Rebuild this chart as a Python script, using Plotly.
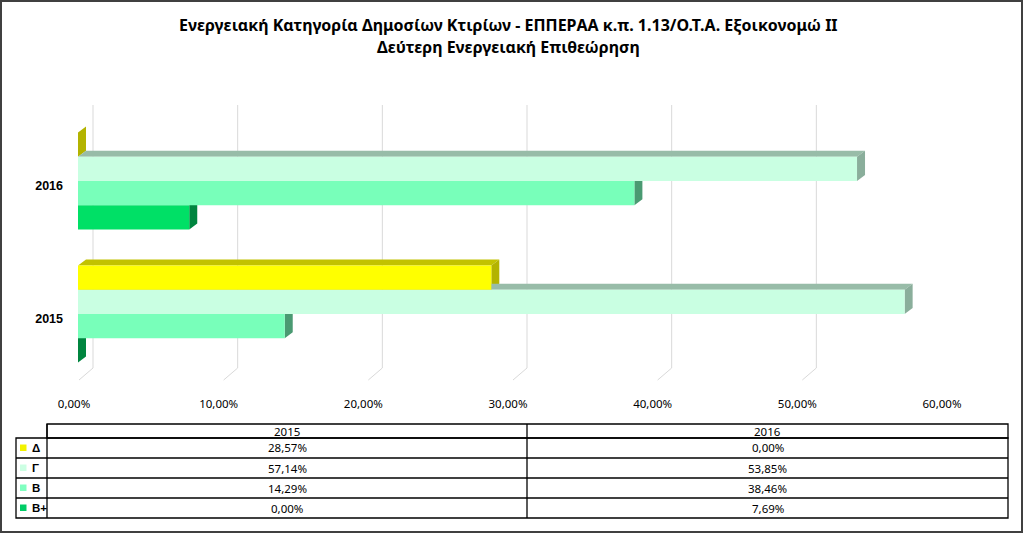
import plotly.graph_objects as go

# ---------------- data ----------------
years = ["2015", "2016"]
series_names = ["Δ", "Γ", "B", "B+"]          # top to bottom inside each group
values_delta = [28.57, 0.00]
values_gamma = [57.14, 53.85]
values_b = [14.29, 38.46]
values_bplus = [0.00, 7.69]
x_ticks = [0, 10, 20, 30, 40, 50, 60]
title_line1 = "Ενεργειακή Κατηγορία Δημοσίων Κτιρίων - ΕΠΠΕΡΑΑ κ.π. 1.13/Ο.Τ.Α. Εξοικονομώ ΙΙ"
title_line2 = "Δεύτερη Ενεργειακή Επιθεώρηση"

series_values = [values_delta, values_gamma, values_b, values_bplus]
front_colors = ["#FFFF00", "#C9FFE2", "#78FFBA", "#00E066"]
top_colors = ["#C2C200", "#98BCA8", "#56A67E", "#00994A"]
side_colors = ["#B3B300", "#8AAE9B", "#4A9A72", "#00853F"]
legend_colors = ["#F2F200", "#CCFFE3", "#80FFC0", "#00CC66"]


def pct(v):
    return f"{v:.2f}".replace(".", ",") + "%"


# ---------------- geometry ----------------
W, H = 1024, 534
L, R, T, B = 78, 78, 100, 142
PW, PH = W - L - R, H - T - B
XMAX = 60.0
PXPCT = PW / XMAX                 # pixels per percent
Y0PX, UNITPX = 314.0, 133.0       # pixel of y=0 and pixels per unit
yrange = [(Y0PX - (H - B)) / UNITPX, (Y0PX - T) / UNITPX]

bar_w = 24.3 / UNITPX
offsets = [1.5 * bar_w, 0.5 * bar_w, -0.5 * bar_w, -1.5 * bar_w]
dx = 8.0 / PXPCT
dy = 6.0 / UNITPX


def px(xp):
    return (xp - L) / PW


def py(yp):
    return (H - B - yp) / PH


fig = go.Figure()

# 3D faces (drawn underneath the fronts, on the base subplot)
for i, vals in enumerate(series_values):
    tx, ty, sx, sy = [], [], [], []
    for g, v in enumerate(vals):
        yc = g + offsets[i]
        y0, y1 = yc - bar_w / 2, yc + bar_w / 2
        tx += [0, v, v + dx, dx, 0, None]
        ty += [y1, y1, y1 + dy, y1 + dy, y1, None]
        sx += [v, v + dx, v + dx, v, v, None]
        sy += [y0, y0 + dy, y1 + dy, y1, y0, None]
    fig.add_trace(go.Scatter(x=tx, y=ty, mode="lines", fill="toself",
                             fillcolor=top_colors[i], line=dict(width=0),
                             hoverinfo="skip", showlegend=False,
                             xaxis="x", yaxis="y"))
    fig.add_trace(go.Scatter(x=sx, y=sy, mode="lines", fill="toself",
                             fillcolor=side_colors[i], line=dict(width=0),
                             hoverinfo="skip", showlegend=False,
                             xaxis="x", yaxis="y"))

# bar fronts (overlay subplot so they sit above the faces), bottom series first
for i in reversed(range(len(series_names))):
    vals = series_values[i]
    fig.add_trace(go.Bar(
        x=vals, y=[g + offsets[i] for g in range(len(years))],
        orientation="h", width=bar_w, base=0,
        marker=dict(color=front_colors[i], line=dict(width=0)),
        name=series_names[i], showlegend=False,
        xaxis="x2", yaxis="y2",
        hovertemplate="%{x:.2f}%<extra>" + series_names[i] + "</extra>"))

shapes = []
# back-wall gridlines + floor slants
gx_off = 15.0 / PXPCT
for t in x_ticks:
    shapes.append(dict(type="line", xref="x", yref="y", layer="below",
                       x0=t + gx_off, x1=t + gx_off,
                       y0=(Y0PX - 105) / UNITPX, y1=(Y0PX - 368) / UNITPX,
                       line=dict(color="#D9D9D9", width=1)))
    shapes.append(dict(type="line", xref="x", yref="y", layer="below",
                       x0=t + gx_off, x1=t + 1.0 / PXPCT,
                       y0=(Y0PX - 368) / UNITPX, y1=(Y0PX - 380) / UNITPX,
                       line=dict(color="#D9D9D9", width=1)))

# outer frame
shapes.append(dict(type="rect", xref="paper", yref="paper",
                   x0=px(1), x1=px(1022), y0=py(532), y1=py(1),
                   line=dict(color="#404040", width=2), layer="above"))

# data table
tbl_l, tbl_lc, tbl_mid, tbl_r = 16, 47, 527, 1008
row_lines = [424, 438, 458, 478, 498, 518]
line_style = dict(color="#000000", width=1.3)
shapes.append(dict(type="rect", xref="paper", yref="paper",
                   x0=px(tbl_lc), x1=px(tbl_r), y0=py(row_lines[1]), y1=py(row_lines[0]),
                   line=line_style))
shapes.append(dict(type="rect", xref="paper", yref="paper",
                   x0=px(tbl_l), x1=px(tbl_r), y0=py(row_lines[-1]), y1=py(row_lines[1]),
                   line=line_style))
for yl in row_lines[2:-1]:
    shapes.append(dict(type="line", xref="paper", yref="paper",
                       x0=px(tbl_l), x1=px(tbl_r), y0=py(yl), y1=py(yl), line=line_style))
shapes.append(dict(type="line", xref="paper", yref="paper",
                   x0=px(tbl_mid), x1=px(tbl_mid), y0=py(row_lines[0]),
                   y1=py(row_lines[-1]), line=line_style))
shapes.append(dict(type="line", xref="paper", yref="paper",
                   x0=px(tbl_lc), x1=px(tbl_lc), y0=py(row_lines[0]),
                   y1=py(row_lines[-1]), line=line_style))

annotations = []
tfont = dict(family="Noto Sans", size=11.5, color="#000000")
col_centers = [(tbl_lc + tbl_mid) / 2, (tbl_mid + tbl_r) / 2]
for c, yr in enumerate(years):
    annotations.append(dict(xref="paper", yref="paper", x=px(col_centers[c]),
                            y=py((row_lines[0] + row_lines[1]) / 2), text=yr,
                            showarrow=False, font=tfont, xanchor="center", yanchor="middle"))
for i, name in enumerate(series_names):
    ymid = (row_lines[i + 1] + row_lines[i + 2]) / 2
    shapes.append(dict(type="rect", xref="paper", yref="paper",
                       x0=px(20), x1=px(26.5), y0=py(ymid + 3), y1=py(ymid - 3.5),
                       fillcolor=legend_colors[i], line=dict(width=0)))
    annotations.append(dict(xref="paper", yref="paper", x=px(29.5), y=py(ymid),
                            text="<b>" + name + "</b>", showarrow=False,
                            font=dict(family="Liberation Sans", size=11.5, color="#000000"),
                            xanchor="left", yanchor="middle"))
    for c in range(len(years)):
        annotations.append(dict(xref="paper", yref="paper", x=px(col_centers[c]),
                                y=py(ymid), text=pct(series_values[i][c]), showarrow=False,
                                font=tfont, xanchor="center", yanchor="middle"))

# title
for txt, yp in [(title_line1, 25), (title_line2, 47)]:
    annotations.append(dict(xref="paper", yref="paper", x=px(W / 2 - 4), y=py(yp),
                            text="<b>" + txt + "</b>", showarrow=False,
                            font=dict(family="Noto Sans", size=16, color="#000000"),
                            xanchor="center", yanchor="middle"))

axis_common = dict(showgrid=False, zeroline=False, showline=False)
fig.update_layout(
    width=W, height=H,
    margin=dict(l=L, r=R, t=T, b=B, pad=0),
    paper_bgcolor="#FFFFFF", plot_bgcolor="rgba(0,0,0,0)",
    separators=",.",
    barmode="overlay",
    showlegend=False,
    xaxis=dict(range=[0, XMAX], tickvals=x_ticks, ticktext=[pct(t) for t in x_ticks],
               ticks="", ticklabelshift=-4, ticklabelstandoff=3,
               tickfont=dict(family="Noto Sans", size=11.5, color="#000000"), **axis_common),
    yaxis=dict(range=yrange, tickvals=[0, 1], ticktext=["<b>" + y + "</b>" for y in years],
               ticks="", ticklabelshift=5, ticklabelstandoff=14,
               tickfont=dict(family="Liberation Sans", size=12.5, color="#000000"),
               **axis_common),
    xaxis2=dict(range=[0, XMAX], overlaying="x", visible=False, **axis_common),
    yaxis2=dict(range=yrange, overlaying="y", visible=False, **axis_common),
    shapes=shapes,
    annotations=annotations,
)

fig.write_html("out.html")
